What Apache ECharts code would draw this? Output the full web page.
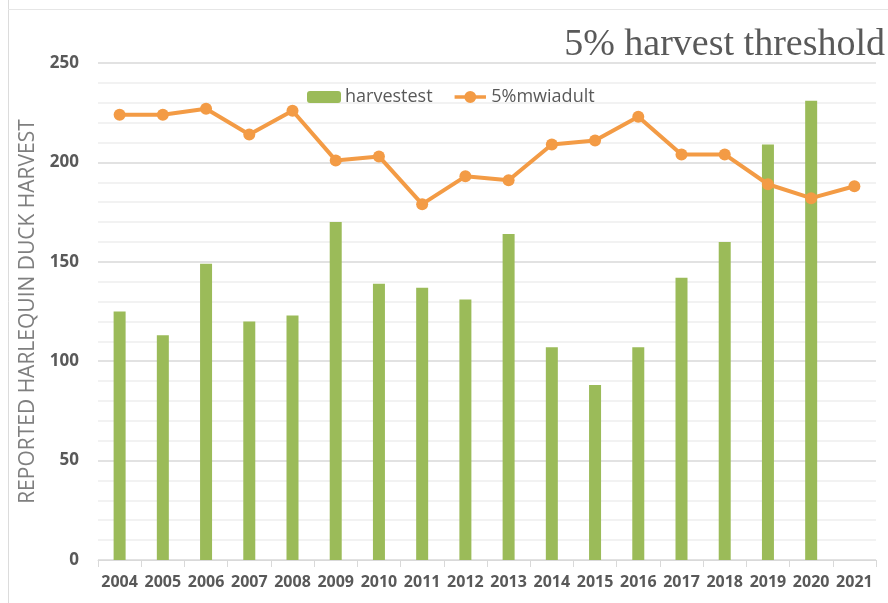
<!DOCTYPE html>
<html>
<head>
<meta charset="utf-8">
<script src="https://cdn.jsdelivr.net/npm/echarts@6/dist/echarts.min.js"></script>
<style>html,body{margin:0;padding:0;background:#fff}#c{width:888px;height:603px}</style>
</head>
<body>
<div id="c"></div>
<script>
const years = ['2004','2005','2006','2007','2008','2009','2010','2011','2012','2013','2014','2015','2016','2017','2018','2019','2020','2021'];
const harvestest = [125,113,149,120,123,170,139,137,131,164,107,88,107,142,160,209,231,null];
const mwiadult5 = [224,224,227,214,226,201,203,179,193,191,209,211,223,204,204,189,182,188];
const titleText = '5% harvest threshold';
const yName = 'REPORTED HARLEQUIN DUCK HARVEST';

const lineIcon = 'path://M0,4.5L34,4.5L34,8.5L0,8.5Z M17,0A6.5,6.5 0 1 1 17,13A6.5,6.5 0 1 1 17,0Z';

const chart = echarts.init(document.getElementById('c'), null, {renderer:'canvas'});
chart.setOption({
  animation:false,
  backgroundColor:'#ffffff',
  title:{
    text:titleText, right:-2, top:21,
    textStyle:{fontFamily:'Liberation Serif', fontSize:38, fontWeight:'normal', color:'#595959'}
  },
  legend:{
    left:302, top:83, itemGap:22, itemWidth:34, itemHeight:12,
    textStyle:{fontFamily:'Open Sans', fontSize:18, color:'#595959', padding:[0,0,0,-1]},
    data:[
      {name:'harvestest'},
      {name:'5%mwiadult', icon:lineIcon, itemStyle:{color:'#F39B45'}}
    ]
  },
  graphic:[
    {type:'line', shape:{x1:8.5,y1:0,x2:8.5,y2:603}, style:{stroke:'#dcdcdc', lineWidth:1}},
    {type:'line', shape:{x1:8,y1:9.5,x2:888,y2:9.5}, style:{stroke:'#e6e6e6', lineWidth:1}}
  ],
  grid:{left:98, right:12, top:63, bottom:43, containLabel:false},
  xAxis:{
    type:'category', data:years, boundaryGap:true,
    axisLine:{lineStyle:{color:'#d9d9d9', width:1}},
    axisTick:{show:true, length:7, lineStyle:{color:'#d9d9d9'}},
    axisLabel:{fontFamily:'Open Sans', fontSize:16, fontWeight:'bold', color:'#595959', margin:14, interval:0}
  },
  yAxis:{
    type:'value', min:0, max:250, interval:50,
    name:yName, nameLocation:'middle', nameGap:58,
    nameTextStyle:{fontFamily:'Open Sans', fontSize:21, color:'#7f7f7f'},
    axisLine:{show:false}, axisTick:{show:false},
    axisLabel:{fontFamily:'Open Sans', fontSize:17, fontWeight:'bold', color:'#595959', margin:19},
    splitLine:{show:true, lineStyle:{color:'#d9d9d9', width:1.5}},
    minorTick:{show:false, splitNumber:5},
    minorSplitLine:{show:true, lineStyle:{color:'#eeeeee', width:1.5}}
  },
  series:[
    {name:'harvestest', type:'bar', data:harvestest, barWidth:12, itemStyle:{color:'#9BBB59'}, z:2},
    {name:'5%mwiadult', type:'line', data:mwiadult5, symbol:'circle', symbolSize:12,
     lineStyle:{color:'#F39B45', width:4}, itemStyle:{color:'#F39B45'}, z:3}
  ]
});
</script>
</body>
</html>
